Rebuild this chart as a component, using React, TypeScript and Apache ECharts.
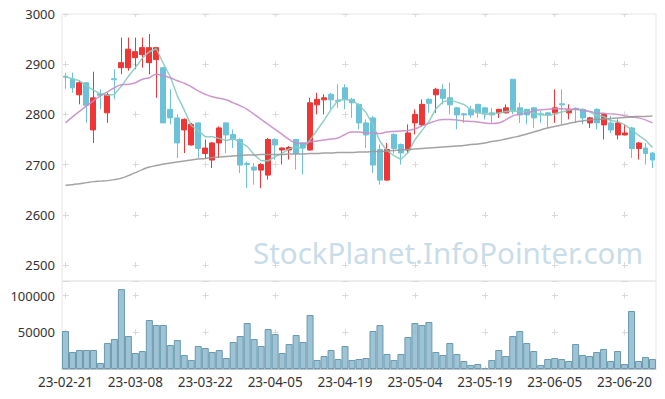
import React, { useEffect, useRef } from "react";
import * as echarts from "echarts";

const dates = [
  "23-02-21","23-02-22","23-02-23","23-02-24","23-02-27","23-02-28",
  "23-03-02","23-03-03","23-03-06","23-03-07","23-03-08","23-03-09","23-03-10","23-03-13","23-03-14","23-03-15","23-03-16","23-03-17","23-03-20","23-03-21","23-03-22","23-03-23","23-03-24","23-03-27","23-03-28","23-03-29","23-03-30","23-03-31",
  "23-04-03","23-04-04","23-04-05","23-04-06","23-04-07","23-04-10","23-04-11","23-04-12","23-04-13","23-04-14","23-04-17","23-04-18","23-04-19","23-04-20","23-04-21","23-04-24","23-04-25","23-04-26","23-04-27","23-04-28",
  "23-05-02","23-05-03","23-05-04","23-05-08","23-05-09","23-05-10","23-05-11","23-05-12","23-05-15","23-05-16","23-05-17","23-05-18","23-05-19","23-05-22","23-05-23","23-05-24","23-05-25","23-05-26","23-05-30","23-05-31",
  "23-06-01","23-06-02","23-06-05","23-06-07","23-06-08","23-06-09","23-06-12","23-06-13","23-06-14","23-06-15","23-06-16","23-06-19","23-06-20","23-06-21","23-06-22","23-06-23","23-06-26"
];

const opens = [
  2876,2870,2839,2863,2769,2841,2803,2871,2893,2893,
  2913,2919,2903,2909,2893,2810,2793,2769,2739,2783,
  2722,2709,2743,2783,2760,2750,2702,2695,2689,2679,
  2750,2729,2729,2750,2743,2729,2819,2829,2840,2828,
  2853,2830,2820,2783,2793,2730,2669,2760,2740,2729,
  2783,2779,2830,2839,2850,2833,2813,2801,2810,2820,
  2813,2803,2803,2803,2870,2813,2810,2813,2801,2803,
  2803,2821,2803,2812,2810,2783,2810,2779,2783,2759,
  2759,2773,2732,2733,2723
];
const closes = [
  2874,2853,2863,2818,2833,2838,2839,2869,2903,2930,
  2925,2933,2933,2933,2783,2793,2743,2790,2780,2732,
  2733,2743,2773,2759,2750,2699,2700,2689,2700,2750,
  2739,2733,2734,2722,2733,2823,2830,2833,2829,2826,
  2830,2823,2783,2759,2699,2669,2730,2732,2723,2763,
  2800,2820,2822,2850,2832,2819,2799,2799,2799,2803,
  2803,2799,2810,2813,2808,2799,2799,2793,2799,2799,
  2813,2819,2810,2810,2793,2793,2783,2800,2769,2783,
  2763,2732,2743,2722,2709
];
const lows = [
  2851,2843,2820,2783,2743,2810,2783,2830,2880,2887,
  2890,2893,2880,2833,2783,2780,2713,2723,2738,2713,
  2713,2693,2713,2723,2733,2683,2653,2660,2653,2670,
  2710,2700,2710,2690,2680,2728,2800,2800,2810,2813,
  2810,2793,2770,2733,2683,2660,2668,2722,2700,2723,
  2760,2776,2803,2803,2820,2800,2770,2783,2793,2793,
  2790,2783,2793,2802,2800,2783,2780,2773,2783,2773,
  2783,2780,2790,2783,2780,2773,2770,2750,2763,2750,
  2758,2713,2710,2700,2693
];
const highs = [
  2883,2883,2867,2864,2885,2850,2843,2890,2953,2953,
  2953,2953,2960,2934,2895,2850,2800,2792,2783,2784,
  2750,2745,2776,2784,2770,2752,2706,2703,2703,2753,
  2753,2734,2737,2751,2745,2833,2843,2840,2843,2860,
  2860,2833,2822,2790,2797,2740,2743,2762,2742,2780,
  2810,2830,2832,2853,2860,2863,2815,2803,2817,2821,
  2815,2813,2811,2820,2870,2823,2811,2815,2807,2805,
  2850,2850,2820,2814,2812,2795,2812,2803,2797,2790,
  2780,2775,2745,2743,2725
];

const volumes = [
  51800,23200,25900,25900,25900,8200,35500,40900,109000,45000,
  21800,24500,66800,60000,60000,32700,39500,19100,12300,31400,
  28600,23200,25900,15000,36800,45000,62700,40900,31400,54500,
  47700,21800,34100,46400,36800,73600,12300,17700,25900,13600,
  31400,12300,13600,15000,51800,60000,20500,12300,20500,43600,
  62700,60000,64100,23200,19100,35500,20500,10900,5500,6800,
  1400,12300,25900,17700,45000,51800,35500,24500,5500,13600,
  15000,13600,10900,34100,19100,17700,23200,27300,10900,24500,
  6800,79100,10900,16400,13600
];

// First MA5 values (need history before the window)
const ma5Head = [2875, 2871, 2867, 2857];

const ma20 = [
  2783,2795,2806,2817,2827,2837,2845,2853,2859,2860,
  2863,2870,2873,2880,2877,2873,2867,2862,2855,2847,
  2840,2835,2832,2829,2823,2817,2810,2800,2790,2780,
  2770,2760,2750,2743,2742,2745,2747,2749,2751,2753,
  2760,2765,2765,2763,2763,2762,2765,2766,2767,2768,
  2771,2777,2782,2787,2790,2790,2789,2787,2786,2785,
  2783,2782,2783,2789,2797,2800,2803,2807,2809,2810,
  2811,2811,2810,2810,2808,2806,2803,2802,2801,2800,
  2797,2795,2793,2789,2783
];

const ma60 = [
  2659,2660,2662,2664,2666,2667,2668,2670,2673,2678,
  2684,2690,2695,2698,2701,2703,2705,2707,2709,2711,
  2712,2714,2715,2716,2717,2718,2719,2719,2720,2720,
  2720,2720,2721,2721,2721,2722,2722,2723,2723,2724,
  2724,2724,2725,2725,2726,2726,2727,2728,2729,2730,
  2731,2732,2733,2734,2735,2736,2737,2738,2740,2741,
  2743,2746,2748,2751,2754,2757,2761,2765,2769,2773,
  2776,2779,2782,2785,2787,2789,2790,2791,2792,2793,
  2794,2795,2796,2796,2797
];

const watermark = "StockPlanet.InfoPointer.com";

const FONT = "'Noto Sans', 'Noto Sans CJK KR', sans-serif";

function ma5Series(): number[] {
  return closes.map((_, i) => {
    if (i < 4) return ma5Head[i];
    let s = 0;
    for (let k = i - 4; k <= i; k++) s += closes[k];
    return Math.round((s / 5) * 10) / 10;
  });
}

export default function App() {
  const ref = useRef<HTMLDivElement>(null);
  useEffect(() => {
    document.body.style.margin = "0";
    if (!ref.current) return;
    const chart = echarts.init(ref.current, undefined, { renderer: "svg" });
    const crossColor = "#d9d9d9";
    const option: any = {
      animation: false,
      backgroundColor: "#ffffff",
      textStyle: { fontFamily: FONT },
      grid: [
        { left: 62, right: 9, top: 14, height: 267, show: true, borderColor: "#e6e6e6", borderWidth: 1 },
        { left: 62, right: 9, top: 281, height: 88, show: true, borderColor: "#e6e6e6", borderWidth: 1 },
      ],
      xAxis: [
        {
          type: "category", gridIndex: 0, data: dates, boundaryGap: true,
          axisLine: { show: false }, axisTick: { show: false }, axisLabel: { show: false },
          splitLine: { show: true, interval: 9, alignWithLabel: true,
            lineStyle: { color: crossColor, width: 1, type: [6, 44.19], dashOffset: 3 } },
        },
        {
          type: "category", gridIndex: 1, data: dates, boundaryGap: true,
          axisLine: { show: true, lineStyle: { color: "#c4c4c4" } }, axisTick: { show: false },
          axisLabel: { interval: 9, color: "#333", fontSize: 13.5, fontFamily: FONT, margin: 6 },
          splitLine: { show: true, interval: 9, alignWithLabel: true,
            lineStyle: { color: crossColor, width: 1, type: [6, 30.67], dashOffset: 25 } },
        },
      ],
      yAxis: [
        {
          type: "value", gridIndex: 0, min: 2468, max: 3000, splitNumber: 5,
          axisLine: { show: false }, axisTick: { show: false },
          axisLabel: { color: "#333", fontSize: 13, fontFamily: FONT, margin: 7,
            formatter: (v: number) => (v % 100 === 0 ? String(v) : "") },
          splitLine: { show: true, lineStyle: { color: crossColor, width: 1, type: [6, 63.88], dashOffset: 69.39 } },
        },
        {
          type: "value", gridIndex: 1, min: 0, max: 120000, interval: 50000,
          axisLine: { show: false }, axisTick: { show: false },
          axisLabel: { color: "#333", fontSize: 13, fontFamily: FONT, margin: 7, showMinLabel: false, showMaxLabel: false,
            formatter: (v: number) => String(v) },
          splitLine: { show: true, lineStyle: { color: crossColor, width: 1, type: [6, 63.88], dashOffset: 69.39 } },
        },
      ],
      graphic: [
        {
          type: "text", right: 22, top: 238, z: 0, silent: true,
          style: { text: watermark, fill: "#c9dde8", font: `29.5px ${FONT}` },
        },
      ],
      series: [
        {
          type: "candlestick", xAxisIndex: 0, yAxisIndex: 0, barWidth: "78%",
          data: opens.map((o, i) => [o, closes[i], lows[i], highs[i]]),
          itemStyle: { color: "#ef3535", color0: "#6cc3d9", borderColor: "#ef3535", borderColor0: "#6cc3d9", borderWidth: 1 },
        },
        {
          type: "line", name: "MA5", xAxisIndex: 0, yAxisIndex: 0, data: ma5Series(),
          showSymbol: false, lineStyle: { color: "#86cbbf", width: 1.5, opacity: 0.9 },
        },
        {
          type: "line", name: "MA20", xAxisIndex: 0, yAxisIndex: 0, data: ma20, smooth: true,
          showSymbol: false, lineStyle: { color: "#c98bc6", width: 1.5, opacity: 0.9 },
        },
        {
          type: "line", name: "MA60", xAxisIndex: 0, yAxisIndex: 0, data: ma60, smooth: true,
          showSymbol: false, lineStyle: { color: "#999999", width: 1.5, opacity: 0.9 },
        },
        {
          type: "bar", name: "Volume", xAxisIndex: 1, yAxisIndex: 1, data: volumes, barCategoryGap: "0%",
          itemStyle: { color: "rgba(140,184,204,0.85)", borderColor: "#6a99af", borderWidth: 1 },
        },
      ],
    };
    chart.setOption(option);
    return () => chart.dispose();
  }, []);
  return <div ref={ref} style={{ width: 665, height: 399 }} />;
}
